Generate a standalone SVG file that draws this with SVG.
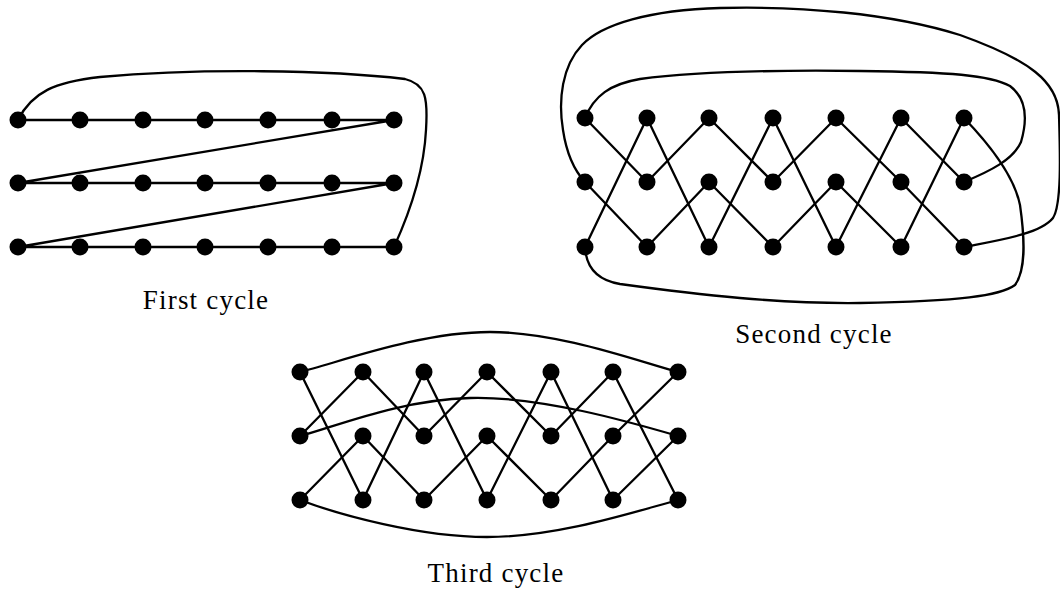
<svg xmlns="http://www.w3.org/2000/svg" width="1060" height="590" viewBox="0 0 1060 590">
  <style>
    .edge { fill: none; stroke: #000; stroke-width: 2.3; stroke-linejoin: round; stroke-linecap: round; }
    .node circle { fill: #000; }
    .label { font-family: "Liberation Serif", "Times New Roman", serif; font-size: 27px; letter-spacing: 1.2px; text-anchor: middle; fill: #000; }
  </style>
  <defs>
    <circle id="dot" r="8.5"/>
  </defs>
  <rect width="1060" height="590" fill="#fff"/>

  <!-- ===== First cycle: row by row, closed by an outer loop ===== -->
  <g id="cycle1-edges">
    <polyline class="edge" points="18,120 394,120 18,183 394,183 18,247 394,247"/>
    <path class="edge" d="M394,247 C410,212 424,170 426,130 C428,98 426,84 405,79 C330,70 200,68 100,77 C55,82 32,92 18,120"/>
  </g>

  <!-- ===== Second cycle: three zigzag chains joined by loops ===== -->
  <g id="cycle2-edges">
    <polyline class="edge" points="585,118 647,182 709,118 773,182 836,118 901,182 964,247"/>
    <polyline class="edge" points="585,182 647,247 709,182 773,247 836,182 901,247 964,118"/>
    <polyline class="edge" points="585,247 647,118 709,247 773,118 836,247 901,118 964,182"/>
    <!-- outer loop -->
    <path class="edge" d="M964,247 C1000,240 1040,234 1053,218 C1062,204 1060,150 1059,115 C1058,82 1030,60 960,35 C890,13 800,6 720,8 C650,10 602,24 582,45 C562,66 558,100 563,130 C566,150 572,168 585,182"/>
    <!-- inner loop -->
    <path class="edge" d="M964,182 C990,171 1013,160 1021,142 C1028,118 1026,98 1010,86 C990,75 950,72 860,71 C780,70 700,71 640,79 C610,84 594,96 585,118"/>
    <!-- lower loop -->
    <path class="edge" d="M964,118 C990,145 1014,175 1020,205 C1025,240 1026,270 1015,285 C1000,296 960,301 860,303 C780,304 700,295 620,284 C596,280 586,266 585,247"/>
  </g>

  <!-- ===== Third cycle: zigzag chains joined by three arcs ===== -->
  <g id="cycle3-edges">
    <polyline class="edge" points="300,372 363,500 424,372 487,500 551,372 613,500 678,436"/>
    <polyline class="edge" points="300,436 363,372 424,436 487,372 551,436 613,372 678,500"/>
    <polyline class="edge" points="300,500 363,436 424,500 487,436 551,500 613,436 678,372"/>
    <path class="edge" d="M300,372 C340,362 420,332 490,332 C560,332 640,362 678,372"/>
    <path class="edge" d="M300,436 C340,425 400,400 470,398 C540,396 630,422 678,436"/>
    <path class="edge" d="M300,500 C340,515 420,537 487,537 C560,537 640,510 678,500"/>
  </g>

  <!-- nodes of the first cycle -->
  <g id="c1-r1-n0" class="node"><use href="#dot" x="18" y="120"/></g>
  <g id="c1-r1-n1" class="node"><use href="#dot" x="80" y="120"/></g>
  <g id="c1-r1-n2" class="node"><use href="#dot" x="143" y="120"/></g>
  <g id="c1-r1-n3" class="node"><use href="#dot" x="205" y="120"/></g>
  <g id="c1-r1-n4" class="node"><use href="#dot" x="268" y="120"/></g>
  <g id="c1-r1-n5" class="node"><use href="#dot" x="332" y="120"/></g>
  <g id="c1-r1-n6" class="node"><use href="#dot" x="394" y="120"/></g>
  <g id="c1-r2-n0" class="node"><use href="#dot" x="18" y="183"/></g>
  <g id="c1-r2-n1" class="node"><use href="#dot" x="80" y="183"/></g>
  <g id="c1-r2-n2" class="node"><use href="#dot" x="143" y="183"/></g>
  <g id="c1-r2-n3" class="node"><use href="#dot" x="205" y="183"/></g>
  <g id="c1-r2-n4" class="node"><use href="#dot" x="268" y="183"/></g>
  <g id="c1-r2-n5" class="node"><use href="#dot" x="332" y="183"/></g>
  <g id="c1-r2-n6" class="node"><use href="#dot" x="394" y="183"/></g>
  <g id="c1-r3-n0" class="node"><use href="#dot" x="18" y="247"/></g>
  <g id="c1-r3-n1" class="node"><use href="#dot" x="80" y="247"/></g>
  <g id="c1-r3-n2" class="node"><use href="#dot" x="143" y="247"/></g>
  <g id="c1-r3-n3" class="node"><use href="#dot" x="205" y="247"/></g>
  <g id="c1-r3-n4" class="node"><use href="#dot" x="268" y="247"/></g>
  <g id="c1-r3-n5" class="node"><use href="#dot" x="332" y="247"/></g>
  <g id="c1-r3-n6" class="node"><use href="#dot" x="394" y="247"/></g>

  <!-- nodes of the second cycle -->
  <g id="c2-r1-n0" class="node"><use href="#dot" x="585" y="118"/></g>
  <g id="c2-r1-n1" class="node"><use href="#dot" x="647" y="118"/></g>
  <g id="c2-r1-n2" class="node"><use href="#dot" x="709" y="118"/></g>
  <g id="c2-r1-n3" class="node"><use href="#dot" x="773" y="118"/></g>
  <g id="c2-r1-n4" class="node"><use href="#dot" x="836" y="118"/></g>
  <g id="c2-r1-n5" class="node"><use href="#dot" x="901" y="118"/></g>
  <g id="c2-r1-n6" class="node"><use href="#dot" x="964" y="118"/></g>
  <g id="c2-r2-n0" class="node"><use href="#dot" x="585" y="182"/></g>
  <g id="c2-r2-n1" class="node"><use href="#dot" x="647" y="182"/></g>
  <g id="c2-r2-n2" class="node"><use href="#dot" x="709" y="182"/></g>
  <g id="c2-r2-n3" class="node"><use href="#dot" x="773" y="182"/></g>
  <g id="c2-r2-n4" class="node"><use href="#dot" x="836" y="182"/></g>
  <g id="c2-r2-n5" class="node"><use href="#dot" x="901" y="182"/></g>
  <g id="c2-r2-n6" class="node"><use href="#dot" x="964" y="182"/></g>
  <g id="c2-r3-n0" class="node"><use href="#dot" x="585" y="247"/></g>
  <g id="c2-r3-n1" class="node"><use href="#dot" x="647" y="247"/></g>
  <g id="c2-r3-n2" class="node"><use href="#dot" x="709" y="247"/></g>
  <g id="c2-r3-n3" class="node"><use href="#dot" x="773" y="247"/></g>
  <g id="c2-r3-n4" class="node"><use href="#dot" x="836" y="247"/></g>
  <g id="c2-r3-n5" class="node"><use href="#dot" x="901" y="247"/></g>
  <g id="c2-r3-n6" class="node"><use href="#dot" x="964" y="247"/></g>

  <!-- nodes of the third cycle -->
  <g id="c3-r1-n0" class="node"><use href="#dot" x="300" y="372"/></g>
  <g id="c3-r1-n1" class="node"><use href="#dot" x="363" y="372"/></g>
  <g id="c3-r1-n2" class="node"><use href="#dot" x="424" y="372"/></g>
  <g id="c3-r1-n3" class="node"><use href="#dot" x="487" y="372"/></g>
  <g id="c3-r1-n4" class="node"><use href="#dot" x="551" y="372"/></g>
  <g id="c3-r1-n5" class="node"><use href="#dot" x="613" y="372"/></g>
  <g id="c3-r1-n6" class="node"><use href="#dot" x="678" y="372"/></g>
  <g id="c3-r2-n0" class="node"><use href="#dot" x="300" y="436"/></g>
  <g id="c3-r2-n1" class="node"><use href="#dot" x="363" y="436"/></g>
  <g id="c3-r2-n2" class="node"><use href="#dot" x="424" y="436"/></g>
  <g id="c3-r2-n3" class="node"><use href="#dot" x="487" y="436"/></g>
  <g id="c3-r2-n4" class="node"><use href="#dot" x="551" y="436"/></g>
  <g id="c3-r2-n5" class="node"><use href="#dot" x="613" y="436"/></g>
  <g id="c3-r2-n6" class="node"><use href="#dot" x="678" y="436"/></g>
  <g id="c3-r3-n0" class="node"><use href="#dot" x="300" y="500"/></g>
  <g id="c3-r3-n1" class="node"><use href="#dot" x="363" y="500"/></g>
  <g id="c3-r3-n2" class="node"><use href="#dot" x="424" y="500"/></g>
  <g id="c3-r3-n3" class="node"><use href="#dot" x="487" y="500"/></g>
  <g id="c3-r3-n4" class="node"><use href="#dot" x="551" y="500"/></g>
  <g id="c3-r3-n5" class="node"><use href="#dot" x="613" y="500"/></g>
  <g id="c3-r3-n6" class="node"><use href="#dot" x="678" y="500"/></g>

  <!-- captions -->
  <g id="captions">
    <text class="label" x="206" y="309">First cycle</text>
    <text class="label" x="814" y="343">Second cycle</text>
    <text class="label" x="496" y="582">Third cycle</text>
  </g>
</svg>
